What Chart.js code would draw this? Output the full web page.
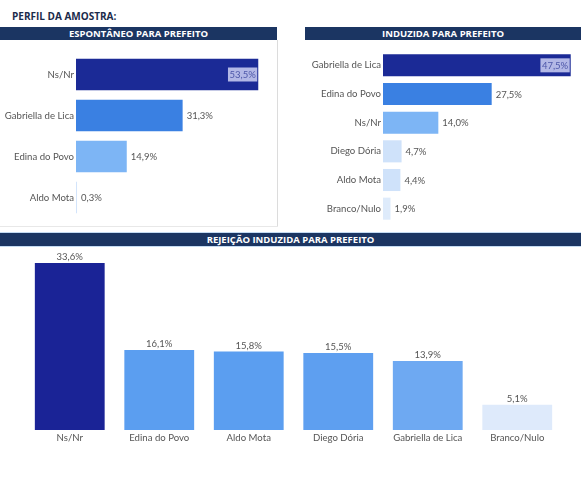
<!DOCTYPE html>
<html><head><meta charset="utf-8">
<script src="https://cdn.jsdelivr.net/npm/chart.js@4.4.1/dist/chart.umd.min.js"></script>
<style>
html,body{margin:0;padding:0;background:#fff;width:581px;height:500px;overflow:hidden;font-family:"Lato","Noto Sans",sans-serif;}
.abs{position:absolute;}
.hdr{position:absolute;background:#1b3562;color:#fff;font-weight:bold;font-size:9.5px;text-align:center;line-height:13px;height:13px;font-family:"Open Sans","Noto Sans",sans-serif;}
#title{left:12px;top:9px;font-size:10px;font-weight:bold;color:#1b2b4b;font-family:"Open Sans","Noto Sans",sans-serif;}
</style></head>
<body>
<div id="title" class="abs">PERFIL DA AMOSTRA:</div>
<div class="hdr" style="left:0;top:27px;width:277px;">ESPONTÂNEO PARA PREFEITO</div>
<div class="hdr" style="left:305px;top:27px;width:276px;">INDUZIDA PARA PREFEITO</div>
<div class="abs" style="left:277px;top:40px;width:1px;height:187px;background:#dcdcdc;"></div>
<div class="abs" style="left:0;top:226px;width:278px;height:1px;background:#e8e8e8;"></div>
<div class="abs" style="left:0;top:232px;width:581px;height:1px;background:#c4dbf2;"></div>
<div class="hdr" style="left:0;top:233px;width:581px;height:13px;line-height:13px;">REJEIÇÃO INDUZIDA PARA PREFEITO</div>
<div class="abs" style="left:0;top:246px;width:581px;height:1px;background:#c4dbf2;"></div>
<div class="abs" style="left:0;top:54px;width:277px;height:164px;"><canvas id="c1" width="277" height="164"></canvas></div>
<div class="abs" style="left:290px;top:51px;width:291px;height:172px;"><canvas id="c2" width="291" height="172"></canvas></div>
<div class="abs" style="left:0;top:250px;width:581px;height:200px;"><canvas id="c3" width="581" height="200"></canvas></div>
<script>
// ---- data ----
const espCats = ["Ns/Nr", "Gabriella de Lica", "Edina do Povo", "Aldo Mota"];
const espVals = [53.5, 31.3, 14.9, 0.3];
const espColors = ["#1b2a96", "#3a80e2", "#7db5f5", "#d3e4fb"];

const indCats = ["Gabriella de Lica", "Edina do Povo", "Ns/Nr", "Diego Dória", "Aldo Mota", "Branco/Nulo"];
const indVals = [47.5, 27.5, 14.0, 4.7, 4.4, 1.9];
const indColors = ["#1b2a96", "#3a80e2", "#7db5f5", "#cfe2fa", "#cfe2fa", "#deebfb"];

const rejCats = ["Ns/Nr", "Edina do Povo", "Aldo Mota", "Diego Dória", "Gabriella de Lica", "Branco/Nulo"];
const rejVals = [33.6, 16.1, 15.8, 15.5, 13.9, 5.1];
const rejColors = ["#1a2396", "#5b9ef0", "#5b9ef0", "#5e9ff0", "#6ea9f2", "#deeafb"];

const FONT = '"Lato","Noto Sans",sans-serif';
const fmt = v => v.toFixed(1).replace('.', ',') + '%';

const labelPlugin = {
  id: 'vlabels',
  afterDatasetsDraw(chart, args, opts) {
    const ctx = chart.ctx;
    const meta = chart.getDatasetMeta(0);
    const vals = chart.data.datasets[0].data;
    ctx.save();
    ctx.font = '9.5px ' + FONT;
    meta.data.forEach((bar, i) => {
      const txt = fmt(vals[i]);
      const w = ctx.measureText(txt).width;
      if (opts.horizontal) {
        ctx.textBaseline = 'middle';
        if (i === 0) {
          const bx = bar.x - w - 4, by = bar.y - 7;
          ctx.fillStyle = '#b3b8e6';
          ctx.fillRect(bx, by, w + 3, 14);
          ctx.fillStyle = '#4d57a9';
          ctx.textAlign = 'left';
          ctx.fillText(txt, bx + 1.5, bar.y + 0.5);
        } else {
          ctx.fillStyle = '#555';
          ctx.textAlign = 'left';
          ctx.fillText(txt, bar.x + 4, bar.y + 0.5);
        }
      } else {
        ctx.fillStyle = '#555';
        ctx.textAlign = 'center';
        ctx.textBaseline = 'bottom';
        ctx.fillText(txt, bar.x, bar.y - 1);
      }
    });
    ctx.restore();
  }
};

function hbar(id, cats, vals, colors, axisW, xmax) {
  new Chart(document.getElementById(id), {
    type: 'bar',
    data: { labels: cats, datasets: [{ data: vals, backgroundColor: colors, barPercentage: 0.77, categoryPercentage: 1 }] },
    options: {
      indexAxis: 'y', responsive: false, animation: false,
      layout: { padding: 0 },
      plugins: { legend: { display: false }, tooltip: { enabled: false }, vlabels: { horizontal: true } },
      scales: {
        x: { display: false, min: 0, max: xmax },
        y: {
          grid: { display: false, drawTicks: false }, border: { display: false },
          ticks: { color: '#555', font: { size: 9.6, family: FONT }, padding: 2 },
          afterFit(s) { s.width = axisW; s.paddingTop = 0; s.paddingBottom = 0; }
        }
      }
    },
    plugins: [labelPlugin]
  });
}
hbar('c1', espCats, espVals, espColors, 76, 59);
hbar('c2', indCats, indVals, indColors, 93, 50.1);

new Chart(document.getElementById('c3'), {
  type: 'bar',
  data: { labels: rejCats, datasets: [{ data: rejVals, backgroundColor: rejColors, barPercentage: 0.78, categoryPercentage: 1 }] },
  options: {
    responsive: false, animation: false,
    layout: { padding: { left: 25, right: 19, top: 0, bottom: 0 } },
    plugins: { legend: { display: false }, tooltip: { enabled: false }, vlabels: { horizontal: false } },
    scales: {
      y: { display: false, min: 0, max: 36.2 },
      x: {
        grid: { display: false, drawTicks: false }, border: { display: false },
        ticks: { color: '#555', font: { size: 9.6, family: FONT }, padding: 2, maxRotation: 0 },
        afterFit(s) { s.height = 20; s.paddingLeft = 0; s.paddingRight = 0; }
      }
    }
  },
  plugins: [labelPlugin]
});
</script>
</body></html>
